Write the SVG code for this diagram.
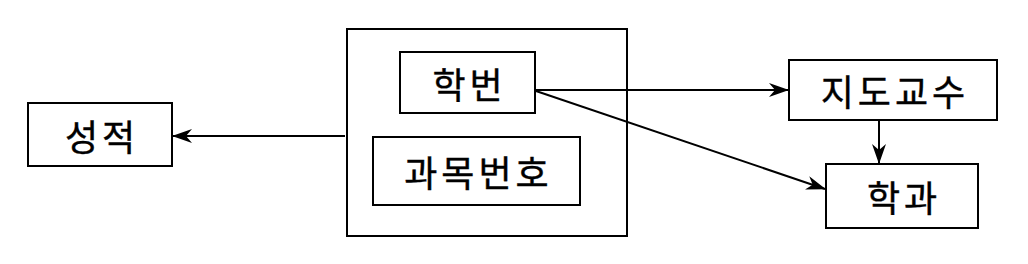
<svg xmlns="http://www.w3.org/2000/svg" width="1028" height="264" viewBox="0 0 1028 264">
<style>
.box{fill:#fff;stroke:#000;stroke-width:2}
.lbl{font-family:"Noto Sans CJK KR","Noto Sans CJK SC",sans-serif;font-size:36px;letter-spacing:4px;fill:#000;stroke:#000;stroke-width:0.4;text-anchor:middle;dominant-baseline:central}
.edge{stroke:#000;stroke-width:2;fill:none;marker-end:url(#ah)}
</style>
<defs>
<marker id="ah" viewBox="0 0 20 14" refX="19" refY="7" markerWidth="20" markerHeight="14" markerUnits="userSpaceOnUse" orient="auto">
<path d="M0,0 L20,7 L0,14 L6,7 z" fill="#000"/>
</marker>
</defs>
<g id="outer"><rect class="box" x="347" y="29" width="280" height="207"/></g>
<g id="n-hakbeon"><rect class="box" x="400" y="52" width="135" height="61"/><text class="lbl" x="469.5" y="82.5">학번</text></g>
<g id="n-gwamok"><rect class="box" x="373" y="137" width="207" height="68"/><text class="lbl" x="478.5" y="171">과목번호</text></g>
<g id="n-seongjeok"><rect class="box" x="28" y="103" width="144" height="63"/><text class="lbl" x="102" y="134.5">성적</text></g>
<g id="n-jido"><rect class="box" x="789" y="60" width="208" height="60"/><text class="lbl" x="895" y="90">지도교수</text></g>
<g id="n-hakgwa"><rect class="box" x="826" y="164" width="152" height="64"/><text class="lbl" x="904" y="196">학과</text></g>
<g id="connectors">
<line class="edge" x1="345" y1="136" x2="173" y2="136"/>
<line class="edge" x1="535" y1="90" x2="788" y2="90"/>
<line class="edge" x1="536" y1="91" x2="825" y2="189"/>
<line class="edge" x1="879" y1="121" x2="879" y2="163"/>
</g>
</svg>
